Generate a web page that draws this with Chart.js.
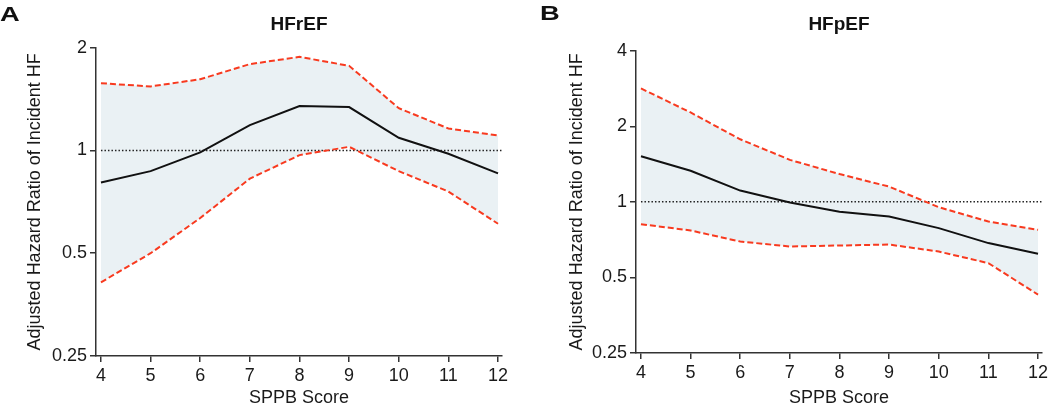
<!DOCTYPE html>
<html>
<head>
<meta charset="utf-8">
<script src="https://cdn.jsdelivr.net/npm/chart.js@4.4.1/dist/chart.umd.min.js"></script>
<style>
  body { margin: 0; background: #fff; }
  #wrap { position: relative; width: 1050px; height: 407px; overflow: hidden; background: #fff;
          font-family: "Liberation Sans", Arial, sans-serif; }
  .panel { position: absolute; top: 0; width: 525px; height: 407px; }
  .tag { position: absolute; font-weight: bold; font-size: 21px; line-height: 21px; color: #111;
         transform: scaleX(1.3); transform-origin: left top; }
</style>
</head>
<body>
<div id="wrap">
  <div class="panel" style="left:0"><canvas id="chartA" width="525" height="407"></canvas></div>
  <div class="panel" style="left:525px"><canvas id="chartB" width="525" height="407"></canvas></div>
  <div class="tag" style="left:0;top:3px">A</div>
  <div class="tag" style="left:540px;top:2px">B</div>
</div>
<script>
// データ
const sppbScores = [4, 5, 6, 7, 8, 9, 10, 11, 12];

const hfrefHR    = [0.806, 0.870, 0.987, 1.187, 1.350, 1.340, 1.089, 0.978, 0.857];
const hfrefUpper = [1.574, 1.540, 1.617, 1.790, 1.880, 1.770, 1.330, 1.160, 1.106];
const hfrefLower = [0.411, 0.500, 0.634, 0.827, 0.969, 1.025, 0.870, 0.758, 0.610];

const hfpefHR    = [1.520, 1.330, 1.109, 0.994, 0.913, 0.874, 0.786, 0.685, 0.621];
const hfpefUpper = [2.830, 2.270, 1.775, 1.470, 1.290, 1.150, 0.952, 0.835, 0.774];
const hfpefLower = [0.815, 0.769, 0.695, 0.664, 0.670, 0.676, 0.634, 0.570, 0.427];

const yTicksA = [0.25, 0.5, 1, 2];
const yTicksB = [0.25, 0.5, 1, 2, 4];
const REF_HR = 1;

// 見た目
const X_MIN = 3.9;
const X_MAX = 12.08;
const AXIS_COLOR = '#333';
const TEXT_COLOR = '#1a1a1a';
const CI_COLOR = '#f83a1f';
const BAND_COLOR = '#eaf1f4';
const FONT = '"Liberation Sans", Arial, sans-serif';

function toPoints(values) {
  return sppbScores.map((x, i) => ({ x: x, y: values[i] }));
}

function makePanel(canvasId, title, hr, upper, lower, yTicks, g) {
  const ctx = document.getElementById(canvasId).getContext('2d');
  return new Chart(ctx, {
    type: 'line',
    data: {
      datasets: [
        {
          label: 'upper',
          data: toPoints(upper),
          borderColor: CI_COLOR,
          borderWidth: 2,
          borderDash: [6, 3],
          backgroundColor: BAND_COLOR,
          fill: '+2',
          pointRadius: 0,
        },
        {
          label: 'HR',
          data: toPoints(hr),
          borderColor: '#111',
          borderWidth: 2,
          fill: false,
          pointRadius: 0,
        },
        {
          label: 'lower',
          data: toPoints(lower),
          borderColor: CI_COLOR,
          borderWidth: 2,
          borderDash: [6, 3],
          fill: false,
          pointRadius: 0,
        },
        {
          label: 'ref',
          data: [{ x: sppbScores[0], y: REF_HR }, { x: X_MAX, y: REF_HR }],
          borderColor: '#222',
          borderWidth: 1.5,
          borderDash: [1.5, 2],
          fill: false,
          pointRadius: 0,
        },
      ],
    },
    options: {
      responsive: false,
      animation: false,
      devicePixelRatio: 1,
      layout: { padding: { left: 0, right: g.padRight, top: 0, bottom: 0 } },
      plugins: {
        legend: { display: false },
        tooltip: { enabled: false },
        filler: { drawTime: 'beforeDatasetsDraw' },
        title: {
          display: true,
          text: title,
          fullSize: false,
          color: '#111',
          font: { family: FONT, size: 19, weight: 'bold', lineHeight: 1.2 },
          padding: { top: 13.6, bottom: g.titleBottom },
        },
      },
      scales: {
        x: {
          type: 'linear',
          min: X_MIN,
          max: X_MAX,
          afterBuildTicks: (s) => { s.ticks = sppbScores.map(v => ({ value: v })); },
          afterFit: (s) => { s.height = g.xHeight; s.paddingLeft = 0; s.paddingRight = 0; },
          grid: { display: true, drawOnChartArea: false, drawTicks: true, tickLength: 6, color: AXIS_COLOR, lineWidth: 1.5 },
          border: { display: true, color: AXIS_COLOR, width: 1.5 },
          ticks: { color: TEXT_COLOR, font: { family: FONT, size: 18 }, padding: 3, autoSkip: false, maxRotation: 0 },
          title: {
            display: true,
            text: 'SPPB Score',
            color: TEXT_COLOR,
            font: { family: FONT, size: 18, lineHeight: 1 },
            padding: { top: 0, bottom: 0 },
          },
        },
        y: {
          type: 'logarithmic',
          min: yTicks[0],
          max: yTicks[yTicks.length - 1],
          afterBuildTicks: (s) => { s.ticks = yTicks.map(v => ({ value: v })); },
          afterFit: (s) => { s.width = g.yWidth; s.paddingTop = 0; s.paddingBottom = 0; },
          grid: { display: true, drawOnChartArea: false, drawTicks: true, tickLength: 6, color: AXIS_COLOR, lineWidth: 1.5 },
          border: { display: true, color: AXIS_COLOR, width: 1.5 },
          ticks: {
            color: TEXT_COLOR,
            font: { family: FONT, size: 18 },
            padding: 3,
            callback: (v) => String(v),
          },
          title: {
            display: true,
            text: 'Adjusted Hazard Ratio of Incident HF',
            color: TEXT_COLOR,
            font: { family: FONT, size: 18, lineHeight: 1.2 },
            padding: { top: g.yTitlePad, bottom: 0 },
          },
        },
      },
    },
  });
}

makePanel('chartA', 'HFrEF', hfrefHR, hfrefUpper, hfrefLower, yTicksA,
  { yWidth: 96, xHeight: 51, padRight: 23, titleBottom: 11.3, yTitlePad: 24.2 });
makePanel('chartB', 'HFpEF', hfpefHR, hfpefUpper, hfpefLower, yTicksB,
  { yWidth: 111, xHeight: 54, padRight: 8, titleBottom: 14.3, yTitlePad: 40.9 });
</script>
</body>
</html>
